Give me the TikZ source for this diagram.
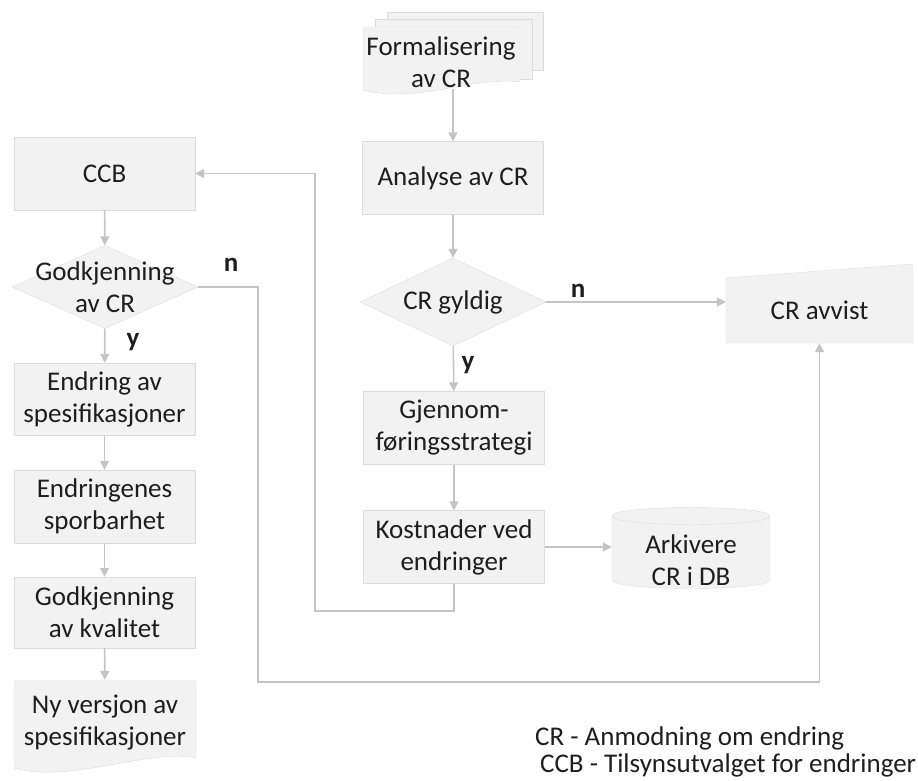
\documentclass[tikz,border=0pt]{standalone}
\usepackage{fontspec}
\setmainfont{Carlito}
\usepackage{tikz}
\usetikzlibrary{arrows.meta,positioning,calc,shapes.geometric}
\definecolor{boxfill}{HTML}{F2F2F2}
\definecolor{boxline}{HTML}{DCDCDC}
\definecolor{flowgray}{HTML}{C4C4C4}
\definecolor{inkgray}{HTML}{1E1E1E}

\tikzset{
  every node/.style={font=\fontsize{27}{32}\selectfont, text=inkgray},
  process/.style={draw=boxline, fill=boxfill, minimum width=181pt, minimum height=73pt, align=center, inner sep=2pt},
  decision/.style={diamond, draw=boxline, fill=boxfill, minimum width=186pt, minimum height=88pt, inner sep=0pt},
  plain/.style={align=center, inner sep=0pt},
  answer/.style={font=\fontsize{27}{32}\selectfont\bfseries},
  sheet/.style={draw=boxline, fill=boxfill},
  flow/.style={draw=flowgray, line width=1.6pt, -{Triangle[length=9pt,width=9pt]}},
}

\begin{document}
\begin{tikzpicture}[x=1pt,y=-1pt]
\useasboundingbox (0,0) rectangle (918,780);

% stacked pages of the request
\path[sheet] (387,12) rectangle (543,70);
\path[sheet] (375,19) rectangle (532,79);
\path[sheet] (363,27) -- (520,27) -- (520,82) .. controls (470,76) and (420,104) .. (363,90) -- cycle;
\node[plain] (formal) at (441,62) {Formalisering\\av CR};
\coordinate (formalfoot) at (453,89);

% middle column
\node[process] (analyse) at (453,178) {Analyse av CR};
\node[decision] (gyldig) at (453,302) {};
\node[plain] at (gyldig) {CR gyldig};
\node[process] (strategi) at (454,428) {Gjennom-\\føringsstrategi};
\node[process] (kostnad) at (454,547) {Kostnader ved\\endringer};

% archive cylinder
\path[sheet] (612,516) -- (612,580) .. controls (612,591.3) and (770,591.3) .. (770,580)
  -- (770,516) .. controls (770,504.7) and (612,504.7) .. (612,516) -- cycle;
\draw[boxline] (612,516) .. controls (612,527.3) and (770,527.3) .. (770,516);
\node[plain, minimum width=158pt] (arkiv) at (691,560) {Arkivere\\CR i DB};

% rejected request
\path[sheet] (726,278) -- (913,264) -- (913,343) -- (726,343) -- cycle;
\node[plain, minimum width=187pt, minimum height=65pt] (avvist) at (819.5,310.5) {CR avvist};

% left column
\node[process] (ccb) at (104.5,173.5) {CCB};
\node[decision, minimum height=83pt] (godkjcr) at (105,287) {};
\node[plain] at (godkjcr) {Godkjenning\\av CR};
\node[process, minimum height=72pt] (endring) at (104.5,399) {Endring av\\spesifikasjoner};
\node[process] (spor) at (104.5,506.5) {Endringenes\\sporbarhet};
\node[process, minimum height=71pt] (kvalitet) at (104.5,612.5) {Godkjenning\\av kvalitet};
\path[sheet] (14,680) -- (196,680) -- (196,758) .. controls (150,748) and (70,784) .. (14,768) -- cycle;
\node[plain, minimum height=86pt] (nyversjon) at (105,723) {Ny versjon av\\spesifikasjoner};

% connectors
\draw[flow] (formalfoot) -- (analyse);
\draw[flow] (analyse) -- (gyldig);
\draw[flow] (gyldig) -- (strategi);
\draw[flow] (strategi) -- (kostnad);
\draw[flow] (gyldig.east) -- (gyldig.east -| avvist.west);
\draw[flow] (kostnad) -- (kostnad -| arkiv.west);
\draw[flow] (kostnad.south) -- ++(0,27) -| ($(ccb.east)+(120,0)$) -- (ccb.east);
\draw[flow] (ccb) -- (godkjcr);
\draw[flow] (godkjcr) -- (endring);
\draw[flow] (endring) -- (spor);
\draw[flow] (spor) -- (kvalitet);
\draw[flow] (kvalitet) -- (nyversjon);
\draw[flow] (godkjcr.east) -- ++(60,0) -- ++(0,395) -| (avvist.south);

% answers
\node[answer] (n-godkj) at (231,265) {n};
\node[answer] (y-godkj) at (133,342) {y};
\node[answer] (n-gyldig) at (578,291) {n};
\node[answer] (y-gyldig) at (468,365) {y};

% legend
\node[anchor=west, inner sep=0pt] (legend-cr) at (535,738) {CR - Anmodning om endring};
\node[anchor=west, inner sep=0pt] (legend-ccb) at (540,765) {CCB - Tilsynsutvalget for endringer};
\end{tikzpicture}
\end{document}
